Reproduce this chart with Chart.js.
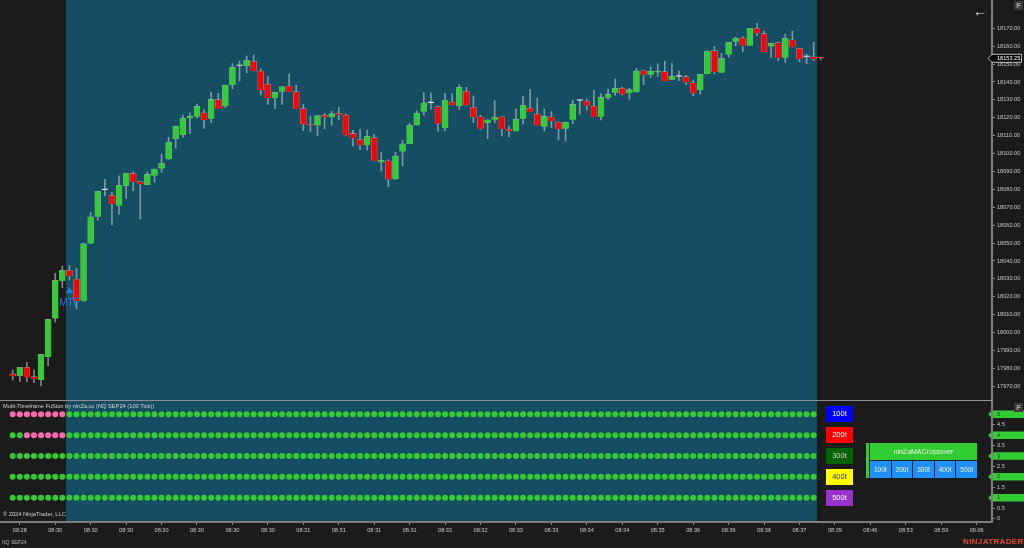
<!DOCTYPE html>
<html><head><meta charset="utf-8">
<script src="https://cdn.jsdelivr.net/npm/chart.js@4/dist/chart.umd.min.js"></script>
<style>
html,body{margin:0;padding:0;background:#1b1b1b;width:1024px;height:548px;overflow:hidden;font-family:"Liberation Sans",Arial,sans-serif}
canvas{position:absolute;left:0;display:block}
#top{top:0}#bot{top:401px}
.abs{position:absolute;white-space:nowrap;line-height:1}
#sep{position:absolute;left:0;top:400px;width:992px;height:1px;background:#8e8e8e}
#legend{position:absolute;left:826px;top:406px;width:27px;display:flex;flex-direction:column;gap:5px}
#legend div{height:16px;line-height:16px;text-align:center;font-size:7.5px}
#panel{position:absolute;left:866px;top:443px;width:111px;height:35px;background:#1b1b1b}
#bar{position:absolute;left:0;top:0;width:3px;height:35px;background:#32cd32}
#title{position:absolute;left:4px;top:0;width:107px;height:17px;line-height:17px;background:#32cd32;color:#f0f8f0;text-align:center;font-size:7px}
#btns{position:absolute;left:4px;top:18px;width:107px;height:17px;display:flex;gap:1px}
#btns div{flex:1;line-height:17px;background:#1e90ff;color:#f0f5ff;text-align:center;font-size:6.5px}
.f{position:absolute;left:1014px;width:9px;height:9px;background:#3a3a3a;color:#b0b0b0;font-size:7.5px;line-height:9px;text-align:center;font-weight:bold}
</style></head><body>
<canvas id="top" width="1024" height="401"></canvas>
<canvas id="bot" width="1024" height="147"></canvas>
<div id="sep"></div>
<div id="legend"></div>
<div id="panel"><div id="bar"></div><div id="title"></div><div id="btns"></div></div>
<div class="f" style="top:1px">F</div>
<div class="f" style="top:403px">F</div>
<div class="abs" style="left:973px;top:3px;font:14px 'Liberation Sans';color:#e8e8e8">←</div>
<div class="abs" style="left:3px;top:404px;font-size:5.7px;color:#d0d0d0">Multi-Timeframe FuSion by ninZa.co (NQ SEP24 (100 Tick))</div>
<div class="abs" style="left:3px;top:512px;font-size:5.7px;color:#d0d0d0">© 2024 NinjaTrader, LLC</div>
<div class="abs" style="left:2px;top:540px;font-size:5px;color:#b0b0b0">NQ SEP24</div>
<div class="abs" style="left:963px;top:538px;font-size:8px;font-weight:bold;letter-spacing:.35px;color:#e04a26">NINJATRADER</div>
<script>
const opens=[17976.9,17975.7,17980.6,17975.4,17973.5,17986.4,18007.8,18028.8,18034.8,18029.9,
18017.8,18049.7,18064.7,18079.7,18076.7,18070.9,18081.9,18089,18084.3,18082.5,
18087.6,18091.6,18096.8,18108,18110.4,18119.7,18120.6,18122.8,18119.5,18130.3,
18126.4,18138.3,18149.1,18148.9,18151.6,18146.1,18138.7,18130.9,18134.6,18137.9,
18134.6,18125.1,18116.2,18115.8,18121.4,18120.3,18122.5,18121.6,18111.3,18108,
18104.6,18108.9,18095.1,18096,18085.6,18101.1,18105.4,18115.8,18123.4,18128.3,
18126.2,18114.5,18128.8,18126.4,18134.8,18125.9,18120.6,18117.1,18118.9,18120.6,
18113.6,18112.5,18119.5,18125.5,18122.1,18115,18120.6,18117.7,18113.9,18118.9,
18129.6,18129.4,18126.6,18120.6,18131.2,18134,18136.5,18133.7,18134.4,18146.3,
18144.1,18145.4,18145.8,18141.3,18143,18143,18139.6,18135.4,18144.5,18157.5,
18145.2,18155.3,18162.5,18164.6,18160.3,18170,18167,18159.9,18162,18153.6,
18163.6,18158.8,18154.1,18154.1,18153.5];
const highs=[17979.1,17980.6,17983.4,17979.1,17987.9,18007.4,18033.1,18037.2,18037.4,18035.9,
18049.7,18067.2,18079.1,18085.6,18078.4,18087.6,18089,18089.9,18084.3,18089.7,
18091.4,18099.8,18109.1,18115.4,18121.6,18122.8,18127.7,18124.4,18134.2,18133.7,
18138.3,18150.2,18151.7,18154.5,18155.1,18147.3,18143,18134.2,18137.4,18144.5,
18138.3,18127.5,18121,18121.2,18122.5,18123.6,18125.9,18122.1,18113,18113.7,
18113.2,18110.8,18100.7,18096.5,18100.7,18107.4,18116.9,18124,18134,18134,
18126.2,18133.7,18133.5,18138.5,18137,18132.2,18121.4,18118.9,18129.6,18120.6,
18115.4,18124.9,18132,18135.9,18131.1,18124.9,18123.4,18117.7,18117.5,18129.9,
18129.9,18130.5,18135.4,18133.5,18136.1,18141.7,18137.2,18136.5,18147.7,18146.5,
18148.4,18150.2,18151.6,18150.4,18146.3,18143.7,18141.1,18144.3,18157.3,18159.9,
18156,18162.2,18165.1,18165.3,18170,18172.8,18168.5,18161.6,18162,18166.8,
18168.5,18158.8,18155.5,18162.2,18153.6];
const lows=[17973.5,17972.6,17972.6,17972,17970.3,17981.5,18005.9,18025.1,18029.4,18013.2,
18017.4,18049.7,18062.9,18076.5,18060.1,18066.1,18075,18079.3,18063.5,18082.5,
18084.1,18089.5,18096.8,18103,18109.1,18111.3,18119.7,18114.1,18117.3,18125.1,
18125.6,18136.1,18140.6,18145.2,18146.1,18132.7,18127.5,18125.1,18127.5,18134.6,
18125.1,18112.8,18112.2,18110,18113.9,18115.8,18118.9,18110,18104.1,18102.2,
18102,18096,18090.3,18081.5,18085.6,18093.2,18105.4,18115.8,18121.4,18124.7,
18112.5,18112.6,18127,18124.7,18127,18117.3,18113.3,18108.3,18117.1,18109.8,
18109.4,18112.5,18116.5,18123.4,18115.8,18112.6,18114.5,18107.6,18107,18116.7,
18122,18124.4,18120.6,18118.8,18130.3,18132.6,18132.7,18130.5,18134.4,18138.5,
18142.4,18143.2,18140.6,18141.3,18140.7,18138.5,18132.3,18133.1,18144.5,18144.5,
18145.2,18153.6,18160.1,18156.9,18160.3,18165.9,18156.6,18153.6,18151.9,18150.8,
18159.4,18151.3,18150.2,18151.9,18152.3];
const closes=[17975.7,17980.6,17975,17973.9,17987.9,18007.4,18029.2,18034.8,18031.6,18017.5,
18049.7,18064.7,18079.1,18079.7,18072,18082.3,18089,18084.3,18082.8,18088.4,
18091.4,18094.7,18106.3,18115.4,18119.7,18121,18126.4,18118.8,18130.3,18125.1,
18138.3,18148.2,18149.1,18152.1,18146.1,18135.4,18130.9,18134.2,18137.4,18134.6,
18125.1,18116.3,18115.8,18121.2,18120.3,18122.3,18121.6,18110.2,18108.5,18104.6,
18109.7,18096,18096.3,18085.6,18098.7,18105.4,18115.8,18122.7,18128.4,18128.3,
18116.9,18129.9,18127,18137,18127,18120.3,18113.9,18118.9,18120.4,18113.6,
18112.5,18119.3,18127,18123.4,18115.8,18120.8,18118.2,18113.7,18117.5,18127.5,
18129.6,18126.8,18120.6,18131.4,18133.1,18136.6,18133.1,18135.7,18146.3,18144.1,
18146.1,18146.1,18140.6,18143.2,18143,18139.8,18133.7,18144.3,18157.3,18145.6,
18153.2,18162.2,18164.6,18160.3,18170,18167.2,18156.6,18161.6,18153.6,18164.4,
18159.4,18152.7,18154.1,18152.8,18153.25];
const priceTicks=[17970,17980,17990,18000,18010,18020,18030,18040,18050,18060,18070,18080,18090,18100,18110,18120,18130,18140,18150,18160,18170];
const levelTicks=[0,0.5,1,1.5,2,2.5,3,3.5,4,4.5,5];
const timeTickBars=[1,6,11,16,21,26,31,36,41,46,51,56,61,66,71,76,81,86,91,96,101,106,111,116,121,126,131,136];
const timeTickLabels=["08:28","08:30","08:30","08:30","08:30","08:30","08:30","08:30","08:31","08:31","08:31","08:31","08:32","08:32","08:33","08:33","08:34","08:34","08:35","08:36","08:36","08:36","08:37","08:39","08:46","08:53","08:59","09:06"];
const rowLevels=[5,4,3,2,1];
const row5PinkBars=[0,1,2,3,4,5,6,7];
const row4PinkBars=[2,3,4,5,6,7];
const dotCount=114;
const lastPrice=18153.25;
const mtfSignalBar=[8], mtfSignalPrice=[18023.2];
const sessionBand=[7.52,113.47];
const xRange=[-1.792,138.16], priceRange=[17962.33,18185.81], levelRange=[-0.168,5.638];
const legendLabels=["100t","200t","300t","400t","500t"];
const legendColors=["#0000ff","#ff0000","#006400","#ffff00","#9932cc"];
const legendTextColors=["#ffffff","#ffffff","#d0d0d0","#333333","#ffffff"];
const panelTitle="ninZaMACrossover";

const GREEN="#32cd32",RED="#ff0000",PINK="#ff69b4",BAND="#154d62";
const FONT="'Liberation Sans',Arial,sans-serif";
Chart.defaults.animation=false;
Chart.defaults.font.family=FONT;

legendLabels.forEach((t,i)=>{const d=document.createElement('div');d.textContent=t;d.style.background=legendColors[i];d.style.color=legendTextColors[i];document.getElementById('legend').appendChild(d);});
document.getElementById('title').textContent=panelTitle;
legendLabels.forEach(t=>{const d=document.createElement('div');d.textContent=t;document.getElementById('btns').appendChild(d);});

const bandPlugin={id:'band',beforeDraw(c){const x=c.scales.x,a=c.chartArea,g=c.ctx;g.save();g.fillStyle=BAND;
 const l=x.getPixelForValue(sessionBand[0]),r=x.getPixelForValue(sessionBand[1]);g.fillRect(l,a.top,r-l,a.bottom-a.top);g.restore();}};

function pentagon(g,x0,x1,y,h){g.beginPath();g.moveTo(x0,y);g.lineTo(x0+4,y-h/2);g.lineTo(x1,y-h/2);g.lineTo(x1,y+h/2);g.lineTo(x0+4,y+h/2);g.closePath();}

const pricePlugin={id:'priceTag',afterDraw(c){const g=c.ctx,y=c.scales.y.getPixelForValue(lastPrice);g.save();
 pentagon(g,988,1021.5,y,8);g.fillStyle='#000';g.fill();g.strokeStyle='#e8e8e8';g.lineWidth=.8;g.stroke();
 g.fillStyle='#fff';g.font="5.6px "+FONT;g.textBaseline='middle';g.textAlign='left';g.fillText(lastPrice.toFixed(2),997,y+.3);
 const m=c.getDatasetMeta(2).data[0];g.fillStyle='#1f7fdc';g.font="10px "+FONT;g.textAlign='center';g.fillText('MTF',m.x,m.y+12.5);
 g.restore();}};

const tagPlugin={id:'levelTags',beforeDraw(c){const g=c.ctx,s=c.scales.y;g.save();g.fillStyle=GREEN;
 rowLevels.forEach(v=>{pentagon(g,988,1024,s.getPixelForValue(v),7.5);g.fill();});g.restore();}};

const bars=opens.map((_,i)=>i);
const isDoji=i=>Math.abs(opens[i]-closes[i])<0.05;
const yAxisFit=s=>{s.width=32;s.paddingTop=0;s.paddingBottom=0;};

new Chart(document.getElementById('top'),{
 data:{datasets:[
  {type:'bar',label:'wick',order:3,grouped:false,barThickness:1,
   data:bars.map(i=>({x:i,y:[lows[i],highs[i]]})),backgroundColor:'rgba(185,198,200,.62)',borderWidth:0},
  {type:'bar',label:'body',order:2,grouped:false,barThickness:6,minBarLength:1,
   data:bars.map(i=>({x:i,y:[opens[i],closes[i]]})),
   backgroundColor:bars.map(i=>isDoji(i)?'#d8d8d8':(closes[i]>=opens[i]?GREEN:RED)),
   borderColor:bars.map(i=>isDoji(i)?'#d8d8d8':'rgba(190,205,205,.65)'),borderWidth:.6},
  {type:'line',label:'MTF',order:1,showLine:false,data:mtfSignalBar.map((b,i)=>({x:b,y:mtfSignalPrice[i]})),
   pointStyle:'triangle',pointRadius:4.4,pointBackgroundColor:'#1f7fdc',pointBorderWidth:0}
 ]},
 options:{responsive:false,devicePixelRatio:1,animation:false,layout:{autoPadding:false,padding:{top:0,bottom:1,left:0,right:0}},
  plugins:{legend:{display:false},tooltip:{enabled:false}},
  scales:{
   x:{type:'linear',min:xRange[0],max:xRange[1],display:false,offset:false,grid:{display:false}},
   y:{position:'right',min:priceRange[0],max:priceRange[1],afterFit:yAxisFit,
      afterBuildTicks(s){s.ticks=priceTicks.map(v=>({value:v}));},
      border:{display:true,color:'#7c7c7c',width:2},
      grid:{drawOnChartArea:false,drawTicks:true,tickLength:3,color:'#8a8a8a'},
      ticks:{autoSkip:false,padding:2,color:'#c8c8c8',font:{size:5.6},callback:v=>v.toFixed(2)}}
  }},
 plugins:[bandPlugin,pricePlugin]
});

new Chart(document.getElementById('bot'),{
 type:'line',
 data:{datasets:rowLevels.map(l=>{
   const pink=l===5?row5PinkBars:l===4?row4PinkBars:[];
   const idx=bars.slice(0,dotCount);
   return {showLine:false,data:idx.map(i=>({x:i,y:l})),pointRadius:3,pointBorderWidth:0,
     pointBackgroundColor:idx.map(i=>pink.includes(i)?PINK:GREEN)};
 })},
 options:{responsive:false,devicePixelRatio:1,animation:false,layout:{autoPadding:false,padding:0},
  plugins:{legend:{display:false},tooltip:{enabled:false}},
  scales:{
   x:{type:'linear',min:xRange[0],max:xRange[1],afterFit(s){s.height=26;s.paddingLeft=0;s.paddingRight=0;},
      afterBuildTicks(s){s.ticks=timeTickBars.map(v=>({value:v}));},
      border:{display:true,color:'#7c7c7c',width:2},
      grid:{drawOnChartArea:false,drawTicks:true,tickLength:3,color:'#8a8a8a'},
      ticks:{autoSkip:false,maxRotation:0,padding:2,color:'#c8c8c8',font:{size:5.6},
        callback:v=>timeTickLabels[timeTickBars.indexOf(v)]}},
   y:{position:'right',min:levelRange[0],max:levelRange[1],afterFit:yAxisFit,
      afterBuildTicks(s){s.ticks=levelTicks.map(v=>({value:v}));},
      border:{display:true,color:'#7c7c7c',width:2},
      grid:{drawOnChartArea:false,drawTicks:true,tickLength:3,color:'#8a8a8a'},
      ticks:{autoSkip:false,padding:2,font:{size:5.6},color:c=>Number.isInteger(c.tick.value)&&c.tick.value>0?'#14330f':'#c8c8c8',
        callback:v=>String(v)}}
  }},
 plugins:[bandPlugin,tagPlugin]
});
</script>
</body></html>
